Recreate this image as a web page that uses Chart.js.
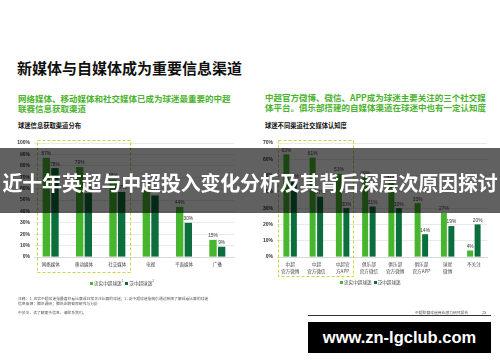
<!DOCTYPE html>
<html><head><meta charset="utf-8">
<script src="https://cdn.jsdelivr.net/npm/chart.js@4"></script>
<style>
html,body{margin:0;padding:0;background:#fff;}
body{width:500px;height:362px;position:relative;overflow:hidden;font-family:"Noto Sans CJK SC","Noto Sans",sans-serif;}
.abs{position:absolute;white-space:nowrap;}
.h1{left:17px;top:58px;font-size:15px;font-weight:bold;color:#111;line-height:19px;}
.green{font-size:8.5px;font-weight:bold;color:#4bb32e;line-height:10px;}
.sub{font-size:6.3px;font-weight:bold;color:#111;line-height:8px;}
.legend{font-size:4.6px;color:#444;line-height:6px;}
.legend i{display:inline-block;width:3px;height:3px;margin-right:1px;vertical-align:middle;}
.note{font-size:3.8px;color:#555;line-height:5px;}
#banner{left:0;top:148px;width:500px;height:65px;background:rgba(0,0,0,0.62);}
#bannerText{left:0;top:170px;width:500px;text-align:center;font-size:20px;font-weight:bold;color:#fff;line-height:26px;letter-spacing:-0.2px;}
#wm{left:308px;top:322px;width:183px;height:31px;background:#000;color:#fff;font-family:"Liberation Sans",Arial,sans-serif;font-weight:bold;font-size:16.5px;text-align:center;line-height:31px;}
</style></head><body>
<div class="abs h1">新媒体与自媒体成为重要信息渠道</div>
<div class="abs green" style="left:18px;top:93px;">网络媒体、移动媒体和社交媒体已成为球迷最重要的中超<br>联赛信息获取渠道</div>
<div class="abs green" style="left:265px;top:92px;">中超官方微博、微信、APP成为球迷主要关注的三个社交媒<br>体平台。俱乐部搭建的自媒体渠道在球迷中也有一定认知度</div>
<div class="abs sub" style="left:18px;top:122px;">球迷信息获取渠道分布</div>
<div class="abs sub" style="left:265px;top:122px;">球迷不同渠道社交媒体认知度</div>

<canvas id="c1" class="abs" style="left:0;top:130px;" width="245" height="150"></canvas>
<canvas id="c2" class="abs" style="left:250px;top:130px;" width="250" height="150"></canvas>

<div class="abs legend" id="lg1" style="left:90px;top:278px;"></div>
<div class="abs legend" id="lg2" style="left:340px;top:279px;"></div>

<div class="abs note" style="left:18px;top:296px;">注释：1. 忠实中超球迷指最喜欢看比赛或日常关注比赛的球迷；2. 泛中超球迷指偶尔通过新闻了解或看比赛的球迷<br>信息来源：腾讯调研；腾讯企鹅智库研究与分析</div>
<div class="abs note" style="left:18px;top:310px;">中关注，读了解更多信息，请联系我们。</div>
<div class="abs note" style="left:415px;top:310px;">中超联赛球迷商业潜力研究报告</div>
<div class="abs note" style="left:482px;top:310px;">25</div>
<div class="abs" style="left:308px;top:315px;width:183px;height:1px;background:#333;"></div>
<div class="abs" id="wm">www.zn-lgclub.com</div>

<div class="abs" id="banner"></div>
<div class="abs" id="bannerText">近十年英超与中超投入变化分析及其背后深层次原因探讨</div>

<script>
// ---- data ----
const seriesNames = ['忠实中超球迷', '泛中超球迷'];
const leftCategories = ['网络媒体', '移动媒体', '社交媒体', '电视', '平面媒体', '广播'];
const leftLoyal = [87, 79, 68, 60, 44, 15];
const leftGeneral = [78, 56, 57, 54, 30, 9];
const rightCategories = [['中超', '官方微博'], ['中超', '官方微信'], ['中超官', '方APP'], ['俱乐部', '官方微信'], ['俱乐部', '官方微博'], ['俱乐部', '官方APP'], ['球星', '微博'], ['不关注']];
const rightLoyal = [63, 61, 51, 49, 47, 33, 27, 4];
const rightGeneral = [47, 37, 30, 31, 30, 14, 19, 20];
const leftMax = 100;
const rightMax = 70;
const tickStep = 10;

const LIGHT = '#47b52e';
const DARK = '#0c6e3c';

// legends
function legendHTML(sup) {
  return '<i style="background:' + LIGHT + '"></i>' + seriesNames[0] + (sup ? '<sup style="font-size:3px">1</sup>' : '') +
    '&nbsp;&nbsp;<i style="background:' + DARK + '"></i>' + seriesNames[1] + (sup ? '<sup style="font-size:3px">2</sup>' : '');
}
document.getElementById('lg1').innerHTML = legendHTML(true);
document.getElementById('lg2').innerHTML = legendHTML(false);

const valueLabels = {
  id: 'valueLabels',
  afterDatasetsDraw(chart) {
    const ctx = chart.ctx;
    ctx.save();
    ctx.font = '4.8px "Liberation Sans", Arial, sans-serif';
    ctx.fillStyle = '#333';
    ctx.textAlign = 'center';
    ctx.textBaseline = 'bottom';
    chart.data.datasets.forEach((ds, di) => {
      chart.getDatasetMeta(di).data.forEach((el, i) => {
        ctx.fillText(ds.data[i] + '%', el.x, el.y - 1.5);
      });
    });
    ctx.restore();
  }
};

const dashedBox = {
  id: 'dashedBox',
  afterDraw(chart, args, opts) {
    const x = chart.scales.x, a = chart.chartArea;
    const cw = (x.right - x.left) / chart.data.labels.length;
    const x0 = x.getPixelForValue(0) - cw / 2 + opts.inL;
    const x1 = x.getPixelForValue(opts.last) + cw / 2 - opts.inR;
    const y0 = a.top - 3, y1 = a.bottom + opts.below;
    const ctx = chart.ctx;
    ctx.save();
    ctx.strokeStyle = '#c6d63c';
    ctx.lineWidth = 1;
    ctx.setLineDash([3, 2]);
    ctx.strokeRect(Math.round(x0) + 0.5, Math.round(y0) + 0.5, Math.round(x1 - x0), Math.round(y1 - y0));
    ctx.restore();
  }
};

function makeChart(id, labels, a, b, max, yWidth, padRight, catPct, barPct, boxOpts, xFont) {
  return new Chart(document.getElementById(id), {
    type: 'bar',
    data: {
      labels: labels,
      datasets: [
        { label: seriesNames[0], data: a, backgroundColor: LIGHT, categoryPercentage: catPct, barPercentage: barPct },
        { label: seriesNames[1], data: b, backgroundColor: DARK, categoryPercentage: catPct, barPercentage: barPct }
      ]
    },
    options: {
      responsive: false,
      animation: false,
      layout: { padding: { top: 13, right: padRight, left: 0, bottom: 0 } },
      plugins: { legend: { display: false }, tooltip: { enabled: false }, dashedBox: boxOpts },
      scales: {
        x: {
          grid: { display: false, drawTicks: false },
          border: { display: true, color: '#d8d8d8' },
          ticks: { padding: 4, color: '#444', autoSkip: false, maxRotation: 0, font: { size: xFont, family: '"Noto Sans CJK SC", sans-serif', lineHeight: 1.45 } },
          afterFit(s) { s.height = 23; }
        },
        y: {
          min: 0, max: max,
          grid: { color: '#e3e3e3', drawTicks: false, lineWidth: 0.8 },
          border: { display: false },
          ticks: { stepSize: tickStep, padding: 4, color: '#333', font: { size: 5, family: '"Liberation Sans", Arial, sans-serif', weight: 'bold' }, callback: v => v + '%' },
          afterFit(s) { s.width = yWidth; }
        }
      }
    },
    plugins: [valueLabels, dashedBox]
  });
}

makeChart('c1', leftCategories, leftLoyal, leftGeneral, leftMax, 34, 11, 0.52, 0.85, { last: 2, inL: 3, inR: 4, below: 15 }, 4.5);
makeChart('c2', rightCategories, rightLoyal, rightGeneral, rightMax, 27, 13, 0.57, 0.8, { last: 2, inL: 1, inR: 3, below: 19 }, 4.6);
</script>
</body></html>
